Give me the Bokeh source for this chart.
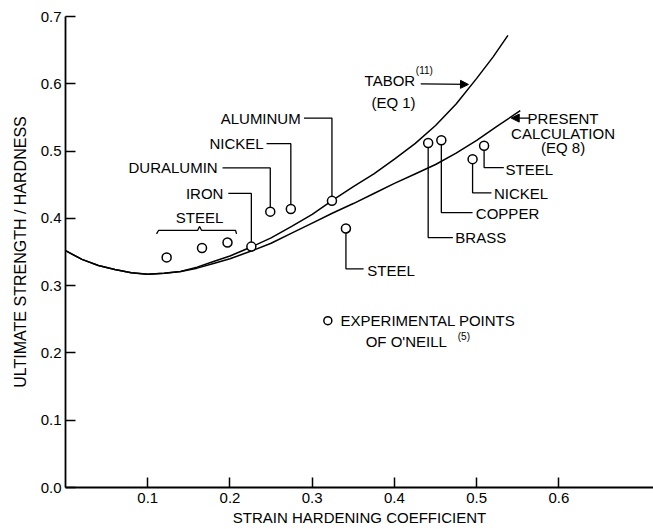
from bokeh.plotting import figure
from bokeh.models import Label, Arrow, NormalHead, FixedTicker, Range1d
from bokeh.embed import file_html
from bokeh.resources import INLINE

# ---- data ----
n_tabor = [0.0, 0.02, 0.04, 0.06, 0.08, 0.10, 0.12, 0.14, 0.16, 0.18, 0.20, 0.225,
           0.25, 0.275, 0.30, 0.325, 0.35, 0.375, 0.40, 0.425, 0.45, 0.475, 0.50, 0.52, 0.538]
tabor = [0.352, 0.339, 0.330, 0.324, 0.319, 0.317, 0.3185, 0.321, 0.3275, 0.336, 0.344, 0.357,
         0.371, 0.388, 0.406, 0.427, 0.447, 0.466, 0.488, 0.511, 0.538, 0.570, 0.608, 0.640, 0.672]

n_present = [0.0, 0.02, 0.04, 0.06, 0.08, 0.10, 0.12, 0.14, 0.16, 0.18, 0.20, 0.225,
             0.25, 0.275, 0.30, 0.325, 0.35, 0.375, 0.40, 0.425, 0.45, 0.475, 0.50, 0.525, 0.553]
present = [0.352, 0.339, 0.330, 0.324, 0.319, 0.317, 0.3185, 0.321, 0.326, 0.333, 0.340, 0.351,
           0.363, 0.378, 0.393, 0.408, 0.422, 0.437, 0.452, 0.466, 0.480, 0.497, 0.516, 0.537, 0.560]

materials = ["STEEL", "STEEL", "STEEL", "IRON", "DURALUMIN", "NICKEL", "ALUMINUM",
             "STEEL", "BRASS", "COPPER", "NICKEL", "STEEL"]
n_exp = [0.123, 0.166, 0.197, 0.226, 0.249, 0.274, 0.324, 0.341, 0.441, 0.457, 0.495, 0.509]
ratio_exp = [0.342, 0.356, 0.364, 0.358, 0.410, 0.414, 0.426, 0.385, 0.512, 0.516, 0.488, 0.508]

x_ticks = [0.1, 0.2, 0.3, 0.4, 0.5, 0.6]
x_tick_labels = ["0.1", "0.2", "0.3", "0.4", "0.5", "0.6"]
y_ticks = [0.0, 0.1, 0.2, 0.3, 0.4, 0.5, 0.6, 0.7]
y_tick_labels = ["0.0", "0.1", "0.2", "0.3", "0.4", "0.5", "0.6", "0.7"]

FONT = "Liberation Sans"
FS = "15px"

p = figure(width=653, height=529, x_range=Range1d(0, 0.715), y_range=Range1d(0, 0.7),
           output_backend="svg", toolbar_location=None,
           min_border_left=65, min_border_right=0, min_border_top=16, min_border_bottom=42)
p.outline_line_color = None
p.grid.visible = False
p.background_fill_color = "white"

for ax, ticks, labels in ((p.xaxis[0], x_ticks, x_tick_labels), (p.yaxis[0], y_ticks, y_tick_labels)):
    ax.ticker = FixedTicker(ticks=ticks)
    ax.major_label_overrides = {t: l for t, l in zip(ticks, labels)}
    ax.minor_tick_line_color = None
    ax.major_tick_in = 10
    ax.major_tick_out = 0
    ax.axis_line_width = 1.8
    ax.major_tick_line_width = 1.5
    ax.axis_line_color = "black"
    ax.major_tick_line_color = "black"
    ax.major_label_text_font = FONT
    ax.major_label_text_font_size = "15px"
    ax.major_label_text_color = "black"
    ax.axis_label_text_font = FONT
    ax.axis_label_text_font_style = "normal"
    ax.axis_label_text_color = "black"

p.xaxis.axis_label = "STRAIN HARDENING COEFFICIENT"
p.yaxis.axis_label = "ULTIMATE STRENGTH / HARDNESS"
p.xaxis.axis_label_text_font_size = "15px"
p.yaxis.axis_label_text_font_size = "16px"
p.xaxis.major_label_standoff = 5
p.xaxis.axis_label_standoff = 3
p.yaxis.major_label_standoff = 4
p.yaxis.axis_label_standoff = 9

# curves
p.line(n_tabor, tabor, line_color="black", line_width=1.5)
p.line(n_present, present, line_color="black", line_width=1.5)

# leader lines (label position -> point)
def lead(i, pts):
    xs = [q[0] for q in pts] + [n_exp[i]]
    ys = [q[1] for q in pts] + [ratio_exp[i]]
    return xs, ys

leaders = [
    lead(6, [(0.290, 0.549), (n_exp[6], 0.549)]),   # aluminum
    lead(5, [(0.2445, 0.511), (n_exp[5], 0.511)]),  # nickel
    lead(4, [(0.191, 0.475), (n_exp[4], 0.475)]),   # duralumin
    lead(3, [(0.198, 0.437), (n_exp[3], 0.437)]),   # iron
    lead(7, [(0.3625, 0.325), (n_exp[7], 0.325)]),  # steel (lower)
    lead(11, [(0.533, 0.4755), (n_exp[11], 0.4755)]),  # steel right
    lead(10, [(0.518, 0.438), (n_exp[10], 0.438)]),    # nickel right
    lead(9, [(0.495, 0.4086), (n_exp[9], 0.4086)]),    # copper
    lead(8, [(0.471, 0.3715), (n_exp[8], 0.3715)]),    # brass
]
p.multi_line([l[0] for l in leaders], [l[1] for l in leaders], line_color="black", line_width=1.3)

# steel brace
p.line([0.1107, 0.1131, 0.1606, 0.163, 0.1655, 0.2068, 0.208],
       [0.377, 0.382, 0.382, 0.388, 0.382, 0.382, 0.377], line_color="black", line_width=1.3)

# points
p.scatter(n_exp, ratio_exp, marker="circle", size=9, fill_color="white",
          line_color="black", line_width=1.5)

def lab(x, y, text, align="left", size=FS, baseline="middle"):
    p.add_layout(Label(x=x, y=y, text=text, text_align=align, text_baseline=baseline,
                       text_font=FONT, text_font_size=size, text_color="black"))

lab(0.286, 0.548, "ALUMINUM", "right")
lab(0.241, 0.511, "NICKEL", "right")
lab(0.185, 0.475, "DURALUMIN", "right")
lab(0.192, 0.437, "IRON", "right")
lab(0.163, 0.401, "STEEL", "center")
lab(0.367, 0.322, "STEEL")
lab(0.535, 0.4725, "STEEL")
lab(0.521, 0.437, "NICKEL")
lab(0.499, 0.407, "COPPER")
lab(0.474, 0.3715, "BRASS")

# Tabor label + arrow
lab(0.3637, 0.605, "TABOR")
lab(0.426, 0.620, "(11)", size="10px")
lab(0.372, 0.572, "(EQ 1)")
p.add_layout(Arrow(end=NormalHead(size=8, fill_color="black", line_color="black"),
                   x_start=0.432, y_start=0.600, x_end=0.490, y_end=0.599,
                   line_color="black", line_width=1.3))

# present calculation label + arrow
p.add_layout(Arrow(end=NormalHead(size=8, fill_color="black", line_color="black"),
                   x_start=0.564, y_start=0.549, x_end=0.542, y_end=0.549,
                   line_color="black", line_width=1.3))
lab(0.605, 0.548, "PRESENT", "center")
lab(0.605, 0.526, "CALCULATION", "center")
lab(0.605, 0.505, "(EQ 8)", "center")

# legend note
p.scatter([0.319], [0.248], marker="circle", size=8, fill_color="white",
          line_color="black", line_width=1.5)
lab(0.3345, 0.248, "EXPERIMENTAL POINTS")
lab(0.365, 0.217, "OF O'NEILL")
lab(0.477, 0.224, "(5)", size="10px")

open("out.html", "w").write(file_html(p, INLINE))
